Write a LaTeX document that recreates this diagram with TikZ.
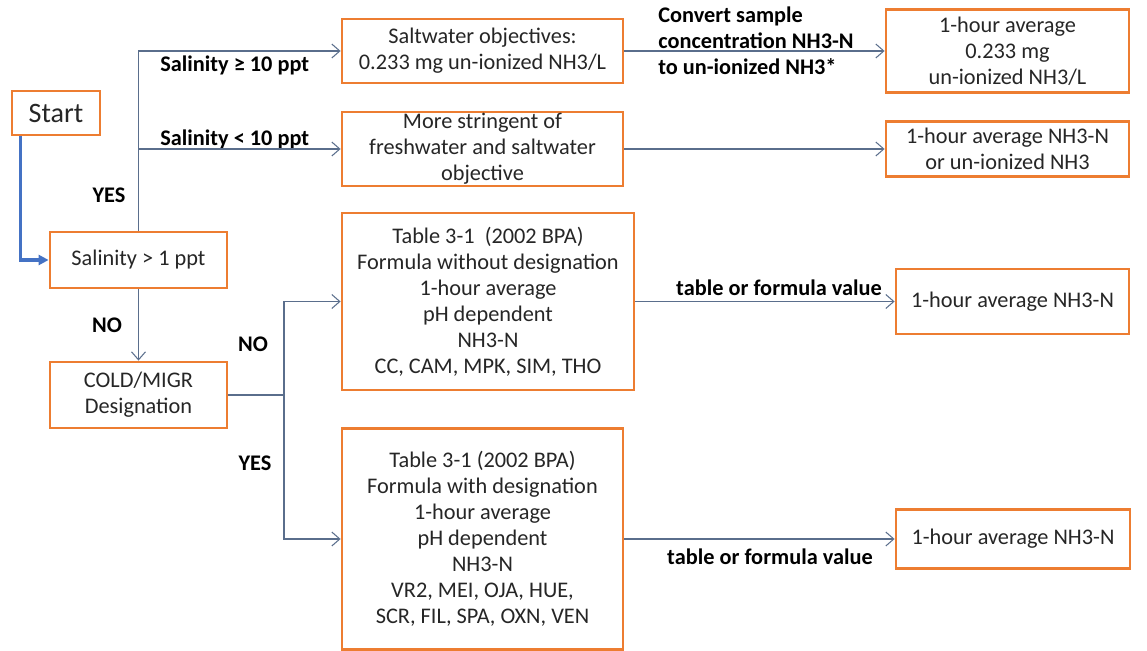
\documentclass[tikz,border=0pt]{standalone}
\usepackage{fontspec}
\setmainfont{Carlito}
\usetikzlibrary{arrows.meta}
\definecolor{boxorange}{RGB}{237,125,49}
\definecolor{linegray}{RGB}{90,110,140}
\definecolor{startblue}{RGB}{68,114,196}
\begin{document}
\begin{tikzpicture}[%
% common options for blocks:
block/.style = {draw=boxorange, line width=1.6pt, fill=white, align=center,
            inner sep=0, text=black!85, font=\fontsize{12.7}{14.8}\selectfont},
% common options for the labels:
lab/.style = {inner sep=0, font=\fontsize{12.7}{14.8}\selectfont\bfseries},
% common options for the connectors:
conn/.style = {draw=linegray, line width=0.6pt, -{Straight Barb[length=1.6mm,width=2.8mm]}}]
\useasboundingbox (0,0) rectangle (22.94,-13.02);
\node[block,minimum width=1.76cm,minimum height=0.88cm,font=\fontsize{16}{19}\selectfont] (A0) at (1.12,-2.26) {Start};
\node[block,minimum width=3.54cm,minimum height=1.12cm] (A1) at (2.77,-5.2) {Salinity > 1 ppt};
\node[block,minimum width=3.54cm,minimum height=1.32cm] (A2) at (2.77,-7.9) {COLD/MIGR\\Designation};
\node[block,minimum width=5.62cm,minimum height=1.28cm] (B1) at (9.65,-1.02) {Saltwater objectives:\\0.233 mg un-ionized NH3/L};
\node[block,minimum width=5.62cm,minimum height=1.48cm] (B2) at (9.65,-2.98) {More stringent of\\freshwater and saltwater\\objective};
\node[block,minimum width=5.84cm,minimum height=3.54cm] (B3) at (9.76,-6.03) {Table 3-1~~(2002 BPA)\\Formula without designation\\1-hour average\\pH dependent\\NH3-N\\CC, CAM, MPK, SIM, THO};
\node[block,minimum width=5.62cm,minimum height=4.42cm] (B4) at (9.65,-10.78) {Table 3-1 (2002 BPA)\\Formula with designation\\1-hour average\\pH dependent\\NH3-N\\VR2, MEI, OJA, HUE,\\SCR, FIL, SPA, OXN, VEN};
\node[block,minimum width=4.86cm,minimum height=1.66cm] (C1) at (20.15,-1.02) {1-hour average\\0.233 mg\\un-ionized NH3/L};
\node[block,minimum width=4.86cm,minimum height=1.1cm] (C2) at (20.15,-2.98) {1-hour average NH3-N\\or un-ionized NH3};
\node[block,minimum width=4.66cm,minimum height=1.3cm] (C3) at (20.25,-6.03) {1-hour average NH3-N};
\node[block,minimum width=4.68cm,minimum height=1.18cm] (C4) at (20.26,-10.78) {1-hour average NH3-N};
\node[lab,anchor=west] (L1) at (3.2,-1.3) {Salinity ≥ 10 ppt};
\node[lab,anchor=west] (L2) at (3.2,-2.78) {Salinity < 10 ppt};
\node[lab] (L3) at (2.18,-3.9) {YES};
\node[lab] (L4) at (2.14,-6.5) {NO};
\node[lab] (L5) at (5.06,-6.88) {NO};
\node[lab] (L6) at (5.1,-9.26) {YES};
\node[lab,anchor=west,align=left] (L7) at (13.16,-0.82) {Convert sample\\concentration NH3-N\\to un-ionized NH3*};
\node[lab] (L8) at (15.58,-5.76) {table or formula value};
\node[lab] (L9) at (15.4,-11.14) {table or formula value};
\coordinate (S1) at (5.68,-7.9);
\draw[draw=startblue,line width=2pt,-{Triangle[length=2mm,width=2mm]}] ([xshift=0.2cm]A0.south west) |- (A1.west);
\draw[conn] (A1.north) |- (B1.west);
\draw[conn] (A1.north) |- (B2.west);
\draw[conn] (A1.south) to (A2.north);
\draw[draw=linegray,line width=0.6pt] (A2.east) to (S1);
\draw[conn] (S1) |- (B3.west);
\draw[conn] (S1) |- (B4.west);
\draw[conn] (B1.east) to (C1.west);
\draw[conn] (B2.east) to (C2.west);
\draw[conn] (B3.east) to (C3.west);
\draw[conn] (B4.east) to (C4.west);
\end{tikzpicture}
\end{document}
